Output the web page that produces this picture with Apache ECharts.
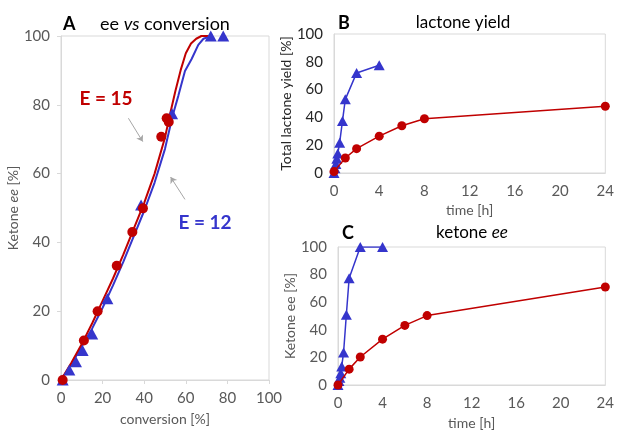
<!DOCTYPE html>
<html><head><meta charset="utf-8">
<script src="https://cdn.jsdelivr.net/npm/echarts@6/dist/echarts.min.js"></script>
<style>html,body{margin:0;padding:0;background:#fff}#c{width:617px;height:431px}</style>
</head><body><div id="c"></div>
<script>
// Panel A: model curves (ee vs conversion)
const convCurveE15 = [0,5,10,15,20,25,30,35,40,45,50,52.5,55,57.5,60,62.5,65,67.5,71];
const eeCurveE15   = [0,5,10.5,16.5,23,29.5,36.5,44,51.5,60,70.5,77.5,84,90,95,97.8,99.2,100,100];
const convCurveE12 = [0,5,10,15,20,25,30,35,40,45,50,53.7,56.4,59.6,62.8,66,68.5,72];
const eeCurveE12   = [0,4.6,9.8,15,21,27.5,34.4,41.8,49.2,57.4,67.2,76.9,82.6,89.8,93.3,97.4,99.2,100];
// Panel A: experimental points
const convRedA = [0.8,11,17.6,26.8,34.3,39.4,48.2,50.8,51.8];
const eeRedA   = [0,11.5,20,33.2,43,49.9,70.7,76.1,75];
const convBlueA = [0.8,4,7.2,10.4,15,22.3,38.5,53.4,72,78];
const eeBlueA   = [0,2.9,5.3,8.6,13.4,23.6,50.9,77.4,100,100];
// Panels B and C: time courses
const timeBlue = [0,0.083,0.167,0.25,0.333,0.5,0.75,1,2,4];
const yieldBlue = [0,3.5,6.5,10.2,14,21.8,37.5,53,72,77.5];
const eeBlue    = [0,2.9,5.3,8.6,13.4,23.6,50.9,77.4,100,100];
const timeRed  = [0,1,2,4,6,8,24];
const yieldRed = [1,10.8,17.5,26.5,34,39,48];
const eeRed    = [0,11.5,20.3,33.2,43.2,50.3,71];
// tick settings
const pctTicks = {min:0,max:100,interval:20};
const timeTicks = {min:0,max:24,interval:4};

const RED = '#C00000', BLUE = '#3535CC', FONT = 'Lato';
const zip = (a,b) => a.map((v,i)=>[v,b[i]]);
const gray = '#595959', frame = '#d9d9d9';

function vAxis(grid, ticks, extra) {
  return Object.assign({
    type:'value', gridIndex:grid, min:ticks.min, max:ticks.max, interval:ticks.interval,
    axisLine:{show:true, lineStyle:{color:frame}},
    axisTick:{show:false},
    splitLine:{show:false},
    axisLabel:{color:gray, fontSize:15, fontFamily:FONT, margin:11},
    nameLocation:'middle',
    nameTextStyle:{color:gray, fontSize:14, fontFamily:FONT}
  }, extra);
}
const italicRich = {
  n:{fontSize:14, fontFamily:FONT, color:gray},
  i:{fontSize:14, fontFamily:FONT, color:gray, fontStyle:'italic'}
};

const chart = echarts.init(document.getElementById('c'), null, {renderer:'canvas'});
chart.setOption({
  animation:false,
  backgroundColor:'#fff',
  grid:[
    {left:61, top:36, width:208, height:349, show:true, borderColor:frame, borderWidth:1},
    {left:334, top:34, width:274, height:139, show:true, borderColor:frame, borderWidth:1},
    {left:338, top:247, width:275, height:138, show:true, borderColor:frame, borderWidth:1}
  ],
  xAxis:[
    vAxis(0, pctTicks, {name:'conversion [%]', nameGap:32, axisTick:{show:true, length:4, lineStyle:{color:frame}}}),
    vAxis(1, timeTicks, {name:'time [h]', nameGap:30}),
    vAxis(2, timeTicks, {name:'time [h]', nameGap:31})
  ],
  yAxis:[
    vAxis(0, pctTicks, {name:'{n|Ketone }{i|ee}{n| [%]}', nameGap:34, nameTextStyle:{rich:italicRich},
      axisTick:{show:true, length:4, lineStyle:{color:frame}}}),
    vAxis(1, pctTicks, {name:'Total lactone yield [%]', nameGap:34, nameTextStyle:{color:'#262626', fontSize:14, fontFamily:FONT},
      axisLabel:{color:'#262626', fontSize:15, fontFamily:FONT, margin:11}}),
    vAxis(2, pctTicks, {name:'Ketone ee [%]', nameGap:38})
  ],
  series:[
    {type:'line', xAxisIndex:0, yAxisIndex:0, data:zip(convCurveE12, eeCurveE12), showSymbol:false,
      lineStyle:{color:BLUE, width:2}, z:2,
      markLine:{silent:true, symbol:['none','arrow'], symbolSize:6, label:{show:false},
        lineStyle:{color:'#a6a6a6', width:1, type:'solid'},
        data:[
          [{coord:[32.4,76.1]},{coord:[39.3,69.3]}],
          [{coord:[59.6,52.5]},{coord:[52.7,59]}]
        ]}},
    {type:'line', xAxisIndex:0, yAxisIndex:0, data:zip(convCurveE15, eeCurveE15), showSymbol:false,
      lineStyle:{color:RED, width:2}, z:2},
    {type:'scatter', xAxisIndex:0, yAxisIndex:0, data:zip(convBlueA, eeBlueA), symbol:'triangle', symbolSize:[12,11],
      itemStyle:{color:BLUE, opacity:1}, z:3},
    {type:'scatter', xAxisIndex:0, yAxisIndex:0, data:zip(convRedA, eeRedA), symbol:'circle', symbolSize:10,
      itemStyle:{color:RED, opacity:1}, z:4},

    {type:'line', xAxisIndex:1, yAxisIndex:1, data:zip(timeBlue, yieldBlue), symbol:'triangle', symbolSize:[11,10],
      lineStyle:{color:BLUE, width:1.5}, itemStyle:{color:BLUE}, z:3},
    {type:'line', xAxisIndex:1, yAxisIndex:1, data:zip(timeRed, yieldRed), symbol:'circle', symbolSize:9,
      lineStyle:{color:RED, width:1.5}, itemStyle:{color:RED}, z:4},

    {type:'line', xAxisIndex:2, yAxisIndex:2, data:zip(timeBlue, eeBlue), symbol:'triangle', symbolSize:[11,10],
      lineStyle:{color:BLUE, width:1.5}, itemStyle:{color:BLUE}, z:3},
    {type:'line', xAxisIndex:2, yAxisIndex:2, data:zip(timeRed, eeRed), symbol:'circle', symbolSize:9,
      lineStyle:{color:RED, width:1.5}, itemStyle:{color:RED}, z:4}
  ],
  graphic:[
    {type:'text', x:63, y:24, style:{text:'A', font:'bold 18px Lato', fill:'#000', verticalAlign:'middle'}},
    {type:'text', x:165, y:24, style:{text:'{n|ee }{i|vs}{n| conversion}', align:'center', verticalAlign:'middle',
      rich:{n:{fontSize:18, fontFamily:FONT, fill:'#000'}, i:{fontSize:18, fontFamily:FONT, fontStyle:'italic', fill:'#000'}}}},
    {type:'text', x:338, y:23, style:{text:'B', font:'bold 18px Lato', fill:'#000', verticalAlign:'middle'}},
    {type:'text', x:463, y:23, style:{text:'lactone yield', font:'17px Lato', fill:'#000', align:'center', verticalAlign:'middle'}},
    {type:'text', x:342, y:233, style:{text:'C', font:'bold 18px Lato', fill:'#000', verticalAlign:'middle'}},
    {type:'text', x:472, y:233, style:{text:'{n|ketone }{i|ee}', align:'center', verticalAlign:'middle',
      rich:{n:{fontSize:17, fontFamily:FONT, fill:'#000'}, i:{fontSize:17, fontFamily:FONT, fontStyle:'italic', fill:'#000'}}}},
    {type:'text', x:106, y:99, style:{text:'E = 15', font:'bold 19px Lato', fill:RED, align:'center', verticalAlign:'middle'}},
    {type:'text', x:205, y:223, style:{text:'E = 12', font:'bold 19px Lato', fill:BLUE, align:'center', verticalAlign:'middle'}}
  ]
});
</script></body></html>
